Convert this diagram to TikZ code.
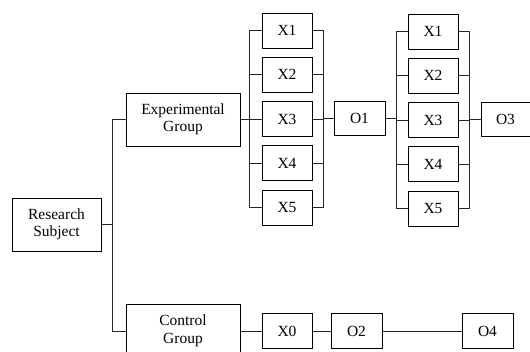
\documentclass[tikz,border=0pt]{standalone}
\usepackage{fontspec}
\setmainfont{Liberation Serif}
\begin{document}
\begin{tikzpicture}[x=1pt,y=-1pt,
  box/.style={draw, line width=0.9pt, inner sep=0pt, align=center,
    font=\fontsize{15.5}{17.5}\selectfont},
  bigbox/.style={box, minimum width=114pt, minimum height=53pt},
  xbox/.style={box, minimum width=50pt, minimum height=35pt},
  obox/.style={box, minimum width=51pt, minimum height=34pt},
  conn/.style={line width=0.9pt, draw=black!85}]
\useasboundingbox (0,0) rectangle (530,352);
\begin{scope}
\clip (0,0) rectangle (530,352);
\node[bigbox, minimum width=89pt] (RS) at (56.5,224.5) {Research\\Subject};
\node[bigbox] (EG) at (183,119.5) {Experimental\\Group};
\node[bigbox] (CG) at (183,331) {Control\\Group};
\foreach \i/\y in {1/30.5,2/74.75,3/119,4/163.25,5/207.5}{
  \node[xbox] (a\i) at (287,\y) {X\i};
  \node[xbox] (b\i) at (433,\y+1) {X\i};
}
\node[obox] (O1) at (359.5,118.5) {O1};
\node[obox, minimum width=49pt] (O3) at (505.5,119.5) {O3};
\node[xbox] (X0) at (287,331) {X0};
\node[obox, minimum height=35pt] (O2) at (356.5,331) {O2};
\node[obox, minimum height=35pt] (O4) at (487.5,331) {O4};
% root bracket
\draw[conn] (EG.west) -- ++(-13,0) coordinate (ba) |- (CG.west);
\draw[conn] (RS.east) -- (RS.east -| ba);
% column 1
\draw[conn] (a1.west) -- ++(-12,0) coordinate (la) |- (a5.west);
\draw[conn] (a1.east) -- ++(11,0) coordinate (ra) |- (a5.east);
\foreach \i in {2,3,4}{
  \draw[conn] (a\i.west) -- (a\i.west -| la);
  \draw[conn] (a\i.east) -- (a\i.east -| ra);
}
\draw[conn] (EG.east) -- (EG.east -| la);
\draw[conn] (O1.west) -- (O1.west -| ra);
% column 2
\draw[conn] (b1.west) -- ++(-11,0) coordinate (lb) |- (b5.west);
\draw[conn] (b1.east) -- ++(11,0) coordinate (rb) |- (b5.east);
\foreach \i in {2,3,4}{
  \draw[conn] (b\i.west) -- (b\i.west -| lb);
  \draw[conn] (b\i.east) -- (b\i.east -| rb);
}
\draw[conn] (O1.east) -- (O1.east -| lb);
\draw[conn] (O3.west) -- (O3.west -| rb);
% control row
\draw[conn] (CG.east) -- (X0.west);
\draw[conn] (X0.east) -- (O2.west);
\draw[conn] (O2.east) -- (O4.west);
\end{scope}
\end{tikzpicture}
\end{document}
